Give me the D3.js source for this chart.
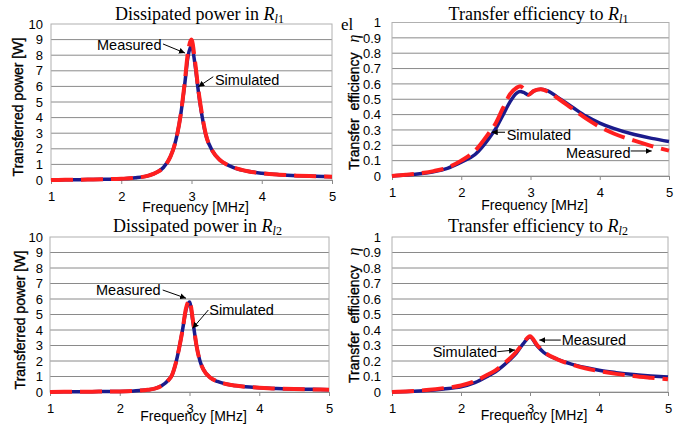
<!DOCTYPE html>
<html>
<head>
<meta charset="utf-8">
<script src="https://cdn.jsdelivr.net/npm/d3@7"></script>
<style>
  body { margin: 0; background: #fff; }
  svg { display: block; }
</style>
</head>
<body>
<script>
// axis ticks
const freqTicks = [1, 2, 3, 4, 5]
const powerTicks = [0, 1, 2, 3, 4, 5, 6, 7, 8, 9, 10]
const effTicks = [0, 0.1, 0.2, 0.3, 0.4, 0.5, 0.6, 0.7, 0.8, 0.9, 1]

// dissipated power [W]
const freqPow = [1.0, 1.2, 1.4, 1.6, 1.8, 2.0, 2.2, 2.4, 2.5, 2.6, 2.7, 2.75, 2.8, 2.85, 2.9, 2.95, 3.0, 3.05, 3.1, 3.15, 3.2, 3.3, 3.4, 3.5, 3.6, 3.8, 4.0, 4.25, 4.5, 4.75, 5.0]
const pow1Meas = [0, 0.01, 0.02, 0.03, 0.05, 0.08, 0.14, 0.3, 0.48, 0.8, 1.5, 2.1, 3.0, 4.3, 6.1, 8.2, 9.0, 7.6, 5.7, 4.2, 3.0, 1.85, 1.3, 1.0, 0.8, 0.56, 0.43, 0.34, 0.28, 0.24, 0.21]
const pow1Sim = [0, 0.01, 0.02, 0.03, 0.05, 0.08, 0.14, 0.3, 0.48, 0.8, 1.5, 2.1, 3.0, 4.3, 6.0, 7.9, 8.6, 7.4, 5.6, 4.1, 2.95, 1.85, 1.3, 1.0, 0.8, 0.56, 0.43, 0.34, 0.28, 0.24, 0.21]
const pow2Meas = [0, 0.01, 0.01, 0.02, 0.03, 0.04, 0.07, 0.14, 0.22, 0.4, 0.78, 1.1, 1.8, 2.8, 4.0, 5.4, 5.9, 4.6, 3.0, 2.0, 1.45, 0.92, 0.68, 0.54, 0.45, 0.34, 0.28, 0.22, 0.19, 0.17, 0.15]
const pow2Sim = [0, 0.01, 0.01, 0.02, 0.03, 0.04, 0.07, 0.14, 0.22, 0.4, 0.78, 1.1, 1.8, 2.8, 4.0, 5.3, 5.8, 4.5, 3.0, 2.0, 1.45, 0.92, 0.68, 0.54, 0.45, 0.34, 0.28, 0.22, 0.19, 0.17, 0.15]

// transfer efficiency
const freqEff1 = [1.0, 1.2, 1.4, 1.6, 1.8, 2.0, 2.2, 2.4, 2.5, 2.6, 2.7, 2.8, 2.85, 2.9, 2.97, 3.05, 3.15, 3.25, 3.4, 3.6, 3.8, 4.0, 4.2, 4.5, 4.75, 5.0]
const eff1Meas = [0, 0.008, 0.018, 0.032, 0.055, 0.1, 0.165, 0.28, 0.345, 0.44, 0.53, 0.575, 0.585, 0.57, 0.53, 0.555, 0.565, 0.55, 0.505, 0.44, 0.375, 0.32, 0.277, 0.23, 0.195, 0.165]
const eff1Sim = [0, 0.007, 0.015, 0.028, 0.05, 0.09, 0.14, 0.245, 0.31, 0.395, 0.48, 0.54, 0.55, 0.545, 0.53, 0.555, 0.565, 0.555, 0.51, 0.45, 0.39, 0.345, 0.31, 0.27, 0.245, 0.225]
const freqEff2 = [1.0, 1.25, 1.5, 1.75, 2.0, 2.2, 2.4, 2.5, 2.6, 2.7, 2.8, 2.9, 3.0, 3.1, 3.2, 3.4, 3.6, 3.8, 4.0, 4.25, 4.5, 4.75, 5.0]
const eff2Meas = [0, 0.005, 0.013, 0.025, 0.042, 0.07, 0.115, 0.14, 0.175, 0.213, 0.258, 0.315, 0.36, 0.305, 0.26, 0.21, 0.178, 0.153, 0.135, 0.117, 0.103, 0.092, 0.082]
const eff2Sim = [0, 0.004, 0.01, 0.02, 0.033, 0.06, 0.105, 0.13, 0.165, 0.205, 0.25, 0.31, 0.355, 0.3, 0.255, 0.21, 0.18, 0.158, 0.14, 0.125, 0.113, 0.104, 0.097]

const SANS = 'Liberation Sans, Arial, sans-serif'
const SERIF = 'Liberation Serif, Times New Roman, serif'

const svg = d3.select('body').append('svg')
  .attr('width', 683)
  .attr('height', 426)
  .attr('font-family', SANS)

svg.append('defs').append('marker')
  .attr('id', 'arrow')
  .attr('viewBox', '0 0 10 10')
  .attr('refX', 10)
  .attr('refY', 5)
  .attr('markerWidth', 6)
  .attr('markerHeight', 6)
  .attr('orient', 'auto')
  .append('path')
  .attr('d', 'M0,0 L10,5 L0,10 z')
  .attr('fill', '#000')

const buildPanel = ({
  box, yMax, yTicks, title, titleText, sub, yLabel, eta = false,
  freq, meas, sim, notes = [], xLabelY, yLabelX, yLabelY, yPad
}) => {
  const x = d3.scaleLinear().domain([1, 5]).range([box.left, box.right])
  const y = d3.scaleLinear().domain([0, yMax]).range([box.bottom, box.top])
  const g = svg.append('g')

  g.selectAll('.grid')
    .data(yTicks.filter(d => d > 0 && d < yMax))
    .enter()
    .append('line')
    .attr('class', 'grid')
    .attr('x1', box.left)
    .attr('x2', box.right)
    .attr('y1', d => y(d))
    .attr('y2', d => y(d))
    .attr('stroke', '#8a8a8a')

  g.append('rect')
    .attr('x', box.left)
    .attr('y', box.top)
    .attr('width', box.right - box.left)
    .attr('height', box.bottom - box.top)
    .attr('fill', 'none')
    .attr('stroke', '#b0b0b0')

  const xAxis = g.append('g')
    .attr('transform', `translate(0,${box.bottom})`)
    .call(d3.axisBottom(x).tickValues(freqTicks).tickFormat(d => String(d))
      .tickSize(4).tickSizeOuter(0).tickPadding(8))
  xAxis.select('.domain').attr('stroke', '#8a8a8a')
  xAxis.selectAll('line').attr('stroke', '#8a8a8a')
  xAxis.selectAll('text').attr('font-size', 13).attr('font-family', SANS)

  const yAxis = g.append('g')
    .attr('transform', `translate(${box.left},0)`)
    .call(d3.axisLeft(y).tickValues(yTicks).tickSize(0).tickPadding(yPad).tickFormat(d => String(d)))
  yAxis.select('.domain').remove()
  yAxis.selectAll('text').attr('font-size', 13).attr('font-family', SANS)

  const line = d3.line()
    .x(d => x(d[0]))
    .y(d => y(d[1]))
    .curve(d3.curveMonotoneX)

  g.append('path')
    .datum(d3.zip(freq, sim))
    .attr('d', line)
    .attr('fill', 'none')
    .attr('stroke', '#1b1b8c')
    .attr('stroke-width', 3.5)

  g.append('path')
    .datum(d3.zip(freq, meas))
    .attr('d', line)
    .attr('fill', 'none')
    .attr('stroke', '#ff1f1f')
    .attr('stroke-width', 4)
    .attr('stroke-dasharray', '22,8')

  // title with subscripted R
  const t = svg.append('text')
    .attr('x', (box.left + box.right) / 2 + 8)
    .attr('y', title)
    .attr('text-anchor', 'middle')
    .attr('font-family', SERIF)
    .attr('font-size', 18)
  t.append('tspan').text(titleText + '\u00a0')
  t.append('tspan').attr('font-style', 'italic').text('R')
  t.append('tspan').attr('font-style', 'italic').attr('font-size', 12).attr('dy', 3).text('l')
  t.append('tspan').attr('font-size', 12).text(sub)

  svg.append('text')
    .attr('x', (box.left + box.right) / 2 + 4)
    .attr('y', xLabelY)
    .attr('text-anchor', 'middle')
    .attr('font-size', 14)
    .text('Frequency [MHz]')

  const yl = svg.append('text')
    .attr('transform', `translate(${yLabelX},${yLabelY}) rotate(-90)`)
    .attr('text-anchor', eta ? 'start' : 'middle')
    .attr('font-size', 14)
    .attr('stroke', '#000')
    .attr('stroke-width', 0.35)
  yl.append('tspan').text(yLabel)
  if (eta) {
    yl.append('tspan')
      .attr('dx', 10)
      .attr('font-family', SERIF)
      .attr('font-style', 'italic')
      .attr('font-size', 16)
      .attr('stroke-width', 0)
      .text('η')
  }

  notes.forEach(n => {
    svg.append('text')
      .attr('x', x(n.at[0]))
      .attr('y', y(n.at[1]))
      .attr('font-size', 14.5)
      .text(n.text)
    svg.append('line')
      .attr('x1', x(n.from[0]))
      .attr('y1', y(n.from[1]))
      .attr('x2', x(n.to[0]))
      .attr('y2', y(n.to[1]))
      .attr('stroke', '#000')
      .attr('stroke-width', 1)
      .attr('marker-end', 'url(#arrow)')
  })
}

buildPanel({
  box: { left: 51, right: 332, top: 24, bottom: 180 },
  yMax: 10, yTicks: powerTicks, yPad: 8,
  title: 20, titleText: 'Dissipated power in', sub: '1',
  yLabel: 'Transferred power [W]', yLabelX: 23, yLabelY: 107,
  xLabelY: 212,
  freq: freqPow, meas: pow1Meas, sim: pow1Sim,
  notes: [
    { text: 'Measured', at: [1.655, 8.33], from: [2.594, 8.72], to: [2.907, 8.14] },
    { text: 'Simulated', at: [3.334, 6.09], from: [3.31, 6.62], to: [3.097, 5.98] }
  ]
})

buildPanel({
  box: { left: 392, right: 669, top: 22.5, bottom: 176 },
  yMax: 1, yTicks: effTicks, yPad: 11,
  title: 20, titleText: 'Transfer efficiency to', sub: '1',
  yLabel: 'Transfer\u00a0\u00a0efficiency', eta: true, yLabelX: 358.5, yLabelY: 170,
  xLabelY: 210,
  freq: freqEff1, meas: eff1Meas, sim: eff1Sim,
  notes: [
    { text: 'Simulated', at: [2.656, 0.2345], from: [2.632, 0.285], to: [2.44, 0.285] },
    { text: 'Measured', at: [3.513, 0.1205], from: [4.447, 0.163], to: [4.75, 0.163] }
  ]
})

buildPanel({
  box: { left: 50, right: 329, top: 237, bottom: 392 },
  yMax: 10, yTicks: powerTicks, yPad: 7,
  title: 232, titleText: 'Dissipated power in', sub: '2',
  yLabel: 'Transferred power [W]', yLabelX: 24.5, yLabelY: 320,
  xLabelY: 421,
  freq: freqPow, meas: pow2Meas, sim: pow2Sim,
  notes: [
    { text: 'Measured', at: [1.66, 6.26], from: [2.616, 6.58], to: [2.95, 6.05] },
    { text: 'Simulated', at: [3.284, 4.99], from: [3.27, 5.29], to: [3.046, 4.11] }
  ]
})

buildPanel({
  box: { left: 392, right: 668, top: 237, bottom: 392 },
  yMax: 1, yTicks: effTicks, yPad: 11,
  title: 232, titleText: 'Transfer efficiency to', sub: '2',
  yLabel: 'Transfer\u00a0\u00a0efficiency', eta: true, yLabelX: 358.5, yLabelY: 383,
  xLabelY: 420,
  freq: freqEff2, meas: eff2Meas, sim: eff2Sim,
  notes: [
    { text: 'Simulated', at: [1.59, 0.226], from: [2.526, 0.26], to: [2.783, 0.271] },
    { text: 'Measured', at: [3.459, 0.303], from: [3.445, 0.335], to: [3.135, 0.335] }
  ]
})

// stray glyphs left over in the source figure
svg.append('text')
  .attr('x', 341)
  .attr('y', 30)
  .attr('font-family', SERIF)
  .attr('font-size', 17)
  .text('el')
</script>
</body>
</html>
